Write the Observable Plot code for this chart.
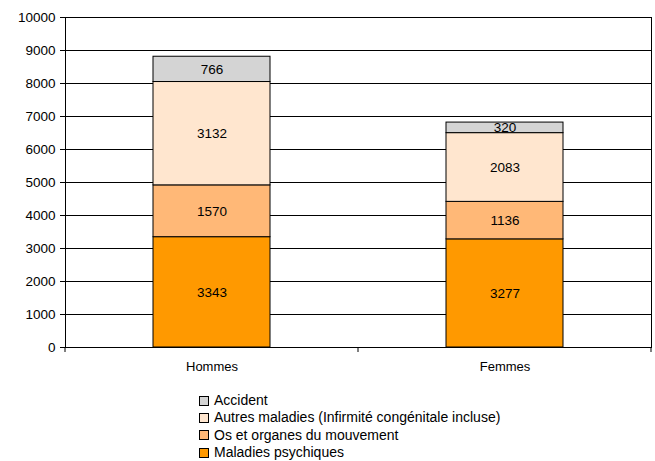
<!DOCTYPE html>
<html>
<head>
<meta charset="utf-8">
<script src="https://cdn.jsdelivr.net/npm/d3@7"></script>
<script src="https://cdn.jsdelivr.net/npm/@observablehq/plot@0.6"></script>
<style>
  body { margin: 0; background: #fff; font-family: "Liberation Sans", Arial, sans-serif; }
  #legend { margin-top: 12px; padding-left: 199px; font-size: 14px; color: #000; }
  .item { height: 17.4px; line-height: 17.4px; display: flex; align-items: center; }
  .sw { width: 8px; height: 8px; border: 1px solid #000; margin-right: 5px; }
</style>
</head>
<body>
<div id="chart"></div>
<div id="legend"></div>
<script>
const categories = ["Hommes", "Femmes"];
const series = [
  "Maladies psychiques",
  "Os et organes du mouvement",
  "Autres maladies (Infirmité congénitale incluse)",
  "Accident"
];
const colors = ["#ff9900", "#ffb877", "#ffe6cf", "#d4d4d4"];
const valuesPsy = [3343, 3277];
const valuesOs = [1570, 1136];
const valuesAutres = [3132, 2083];
const valuesAccident = [766, 320];
const yTicks = [0, 1000, 2000, 3000, 4000, 5000, 6000, 7000, 8000, 9000, 10000];

const seriesValues = [valuesPsy, valuesOs, valuesAutres, valuesAccident];
const data = [];
series.forEach((s, i) => categories.forEach((c, j) => data.push({sex: c, series: s, value: seriesValues[i][j]})));

const boundaryTicks = (index, scales, values, dims) => {
  const x = scales.x;
  const g = d3.create("svg:g");
  const y0 = dims.height - dims.marginBottom;
  const xs = [dims.marginLeft];
  for (let k = 0; k < categories.length - 1; k++) {
    xs.push((x(categories[k]) + x.bandwidth() + x(categories[k + 1])) / 2);
  }
  xs.push(dims.width - dims.marginRight);
  xs.forEach(v => g.append("line").attr("x1", v).attr("x2", v).attr("y1", y0).attr("y2", y0 + 5).attr("stroke", "#000"));
  return g.node();
};

const chart = Plot.plot({
  width: 655,
  height: 380,
  marginLeft: 65,
  marginRight: 4,
  marginTop: 17,
  marginBottom: 33,
  style: {fontFamily: "'Liberation Sans', Arial, sans-serif", fontSize: "13px", color: "#000", background: "#fff"},
  x: {domain: categories, paddingInner: 0.6, paddingOuter: 0.3, label: null},
  y: {domain: [0, 10000], label: null},
  color: {domain: series, range: colors},
  marks: [
    Plot.ruleY(yTicks, {stroke: "#000", strokeWidth: 1}),
    Plot.barY(data, {x: "sex", y: "value", fill: "series", stroke: "#000", strokeWidth: 1, order: null}),
    Plot.text(data, Plot.stackY({x: "sex", y: "value", text: d => String(d.value), order: null, fill: "#000", fontSize: 13.5})),
    Plot.axisY({ticks: yTicks, tickSize: 5, tickPadding: 5, tickFormat: d => String(d), fontSize: 13.5}),
    Plot.axisX({tickSize: 0, tickPadding: 14, fontSize: 13}),
    Plot.frame({stroke: "#000"}),
    boundaryTicks
  ]
});
document.getElementById("chart").appendChild(chart);

const legend = document.getElementById("legend");
series.slice().reverse().forEach((s, i) => {
  const idx = series.length - 1 - i;
  const item = document.createElement("div");
  item.className = "item";
  const sw = document.createElement("span");
  sw.className = "sw";
  sw.style.background = colors[idx];
  const t = document.createElement("span");
  t.textContent = s;
  item.appendChild(sw);
  item.appendChild(t);
  legend.appendChild(item);
});
</script>
</body>
</html>
